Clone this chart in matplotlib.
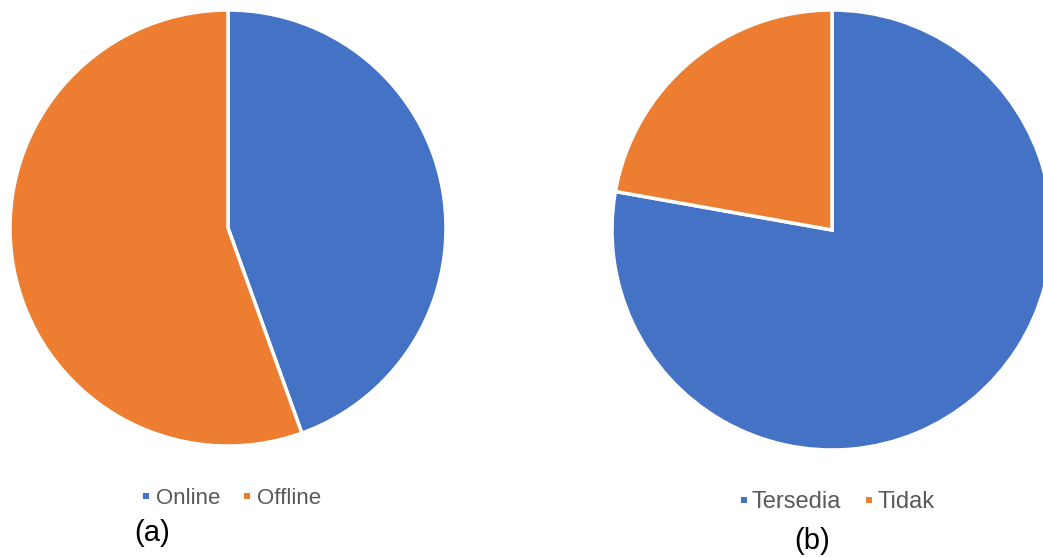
import matplotlib
matplotlib.use("Agg")
import matplotlib.pyplot as plt
from matplotlib.patches import Rectangle

plt.rcParams['font.family'] = ['Liberation Sans', 'DejaVu Sans']

labels_a = ["Online", "Offline"]
values_a = [44.5, 55.5]
labels_b = ["Tersedia", "Tidak"]
values_b = [77.8, 22.2]
colors = ["#4472C4", "#ED7D31"]

W, H = 1043, 557
fig = plt.figure(figsize=(W / 100, H / 100), dpi=100)

def px_axes(cx, cy, r):
    return fig.add_axes([(cx - r) / W, (H - cy - r) / H, 2 * r / W, 2 * r / H])

def draw_pie(ax, vals):
    ax.pie(vals, colors=colors, startangle=90, counterclock=False, radius=1,
           wedgeprops=dict(edgecolor="white", linewidth=2.5))
    ax.set_xlim(-1, 1)
    ax.set_ylim(-1, 1)
    ax.set_aspect("equal")
    ax.axis("off")

ax_a = px_axes(228, 228, 218)
draw_pie(ax_a, values_a)
ax_b = px_axes(832, 230, 220)
draw_pie(ax_b, values_b)

def legend_item(x_marker, x_text, cy, color, label, size=16):
    s = 6
    fig.patches.append(Rectangle((x_marker / W, 1 - (cy + s / 2) / H), s / W, s / H,
                                 transform=fig.transFigure, facecolor=color,
                                 edgecolor="none"))
    fig.text(x_text / W, 1 - cy / H, label, ha="left", va="center_baseline",
             fontsize=size, color="#595959")

legend_item(143, 156, 496, colors[0], labels_a[0])
legend_item(244, 257, 496, colors[1], labels_a[1])
legend_item(741, 751, 500, colors[0], labels_b[0], 17)
legend_item(866, 877, 500, colors[1], labels_b[1], 17)

fig.text(152 / W, 1 - 533 / H, "(a)", ha="center", va="center", fontsize=21, color="black")
fig.text(812 / W, 1 - 541 / H, "(b)", ha="center", va="center", fontsize=21, color="black")

fig.savefig("out.png", dpi=100)
